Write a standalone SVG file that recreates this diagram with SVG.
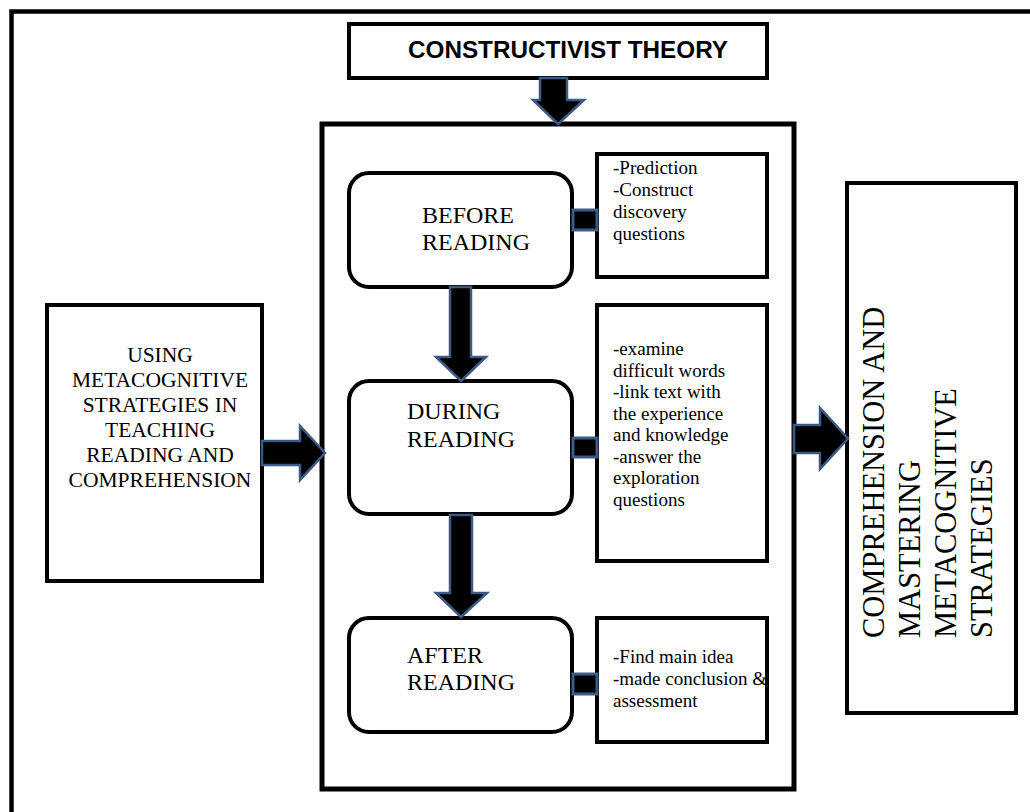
<svg xmlns="http://www.w3.org/2000/svg" width="1030" height="812" viewBox="0 0 1030 812">
<style>
.box{fill:#fff;stroke:#000;stroke-width:4}
.arr{fill:#000;stroke:#3C5A85;stroke-width:2.5;stroke-linejoin:miter}
.sq{fill:#000;stroke:#3C5A85;stroke-width:3}
</style>
<rect x="0" y="0" width="1030" height="812" fill="#fff"/>
<rect id="frame" x="11.5" y="11.5" width="1040" height="830" fill="none" stroke="#000" stroke-width="4.5"/>

<g id="title">
<rect class="box" x="349" y="24" width="418" height="54"/>
<text x="408" y="58" font-family="Liberation Sans, Arial, sans-serif" font-weight="bold" font-size="23.5" textLength="320" lengthAdjust="spacingAndGlyphs">CONSTRUCTIVIST THEORY</text>
</g>

<g id="main">
<rect x="322" y="124" width="472" height="665" fill="none" stroke="#000" stroke-width="5"/>
</g>

<g id="left">
<rect class="box" x="47" y="305" width="215" height="276"/>
<g font-family="Liberation Serif, Times New Roman, serif" font-size="21.5" text-anchor="middle" fill="#000">
<text x="160" y="362">USING</text>
<text x="160" y="387">METACOGNITIVE</text>
<text x="160" y="412">STRATEGIES IN</text>
<text x="160" y="437">TEACHING</text>
<text x="160" y="462">READING AND</text>
<text x="160" y="487">COMPREHENSION</text>
</g>
</g>

<g id="right">
<rect class="box" x="847" y="183" width="169" height="530"/>
<g font-family="Liberation Serif, Times New Roman, serif" font-size="30.5" fill="#000">
<text x="884" y="638" transform="rotate(-90 884 638)">COMPREHENSION AND</text>
<text x="920" y="638" transform="rotate(-90 920 638)">MASTERING</text>
<text x="956" y="638" transform="rotate(-90 956 638)">METACOGNITIVE</text>
<text x="992" y="638" transform="rotate(-90 992 638)">STRATEGIES</text>
</g>
</g>

<g id="before">
<rect class="box" x="349" y="173" width="223" height="114" rx="20"/>
<g font-family="Liberation Serif, Times New Roman, serif" font-size="24" fill="#000">
<text x="422" y="223">BEFORE</text>
<text x="422" y="250">READING</text>
</g>
</g>
<g id="before-notes">
<rect class="box" x="597" y="154" width="170" height="123"/>
<g font-family="Liberation Serif, Times New Roman, serif" font-size="19" fill="#000">
<text x="613" y="174">-Prediction</text>
<text x="613" y="196">-Construct</text>
<text x="613" y="218">discovery</text>
<text x="613" y="240">questions</text>
</g>
</g>

<g id="during">
<rect class="box" x="349" y="381" width="223" height="133" rx="20"/>
<g font-family="Liberation Serif, Times New Roman, serif" font-size="24" fill="#000">
<text x="407" y="419">DURING</text>
<text x="407" y="447">READING</text>
</g>
</g>
<g id="during-notes">
<rect class="box" x="597" y="305" width="170" height="256"/>
<g font-family="Liberation Serif, Times New Roman, serif" font-size="19" fill="#000">
<text x="613" y="355">-examine</text>
<text x="613" y="376.5">difficult words</text>
<text x="613" y="398">-link text with</text>
<text x="613" y="419.5">the experience</text>
<text x="613" y="441">and knowledge</text>
<text x="613" y="462.5">-answer the</text>
<text x="613" y="484">exploration</text>
<text x="613" y="505.5">questions</text>
</g>
</g>

<g id="after">
<rect class="box" x="349" y="618" width="223" height="114" rx="20"/>
<g font-family="Liberation Serif, Times New Roman, serif" font-size="24" fill="#000">
<text x="407" y="663">AFTER</text>
<text x="407" y="690">READING</text>
</g>
</g>
<g id="after-notes">
<rect class="box" x="597" y="618" width="170" height="124"/>
<g font-family="Liberation Serif, Times New Roman, serif" font-size="19" fill="#000">
<text x="613" y="663">-Find main idea</text>
<text x="613" y="685">-made conclusion &amp;</text>
<text x="613" y="707">assessment</text>
</g>
</g>

<g id="connectors">
<path class="arr" d="M540,78 L567,78 L567,100 L584,100 L558,124 L533,100 L540,100 Z"/>
<path class="arr" d="M450,287 L471,287 L471,357 L486,357 L461,381 L436,357 L450,357 Z"/>
<path class="arr" d="M450,515 L472,515 L472,593 L487,593 L461,617 L436,593 L450,593 Z"/>
<path class="arr" d="M262,441 L300,441 L300,426 L325,453 L300,480 L300,465 L262,465 Z"/>
<path class="arr" d="M794,425 L820,425 L820,408 L848,438.5 L820,469 L820,453 L794,453 Z"/>
<rect class="sq" x="573" y="210" width="24" height="20"/>
<rect class="sq" x="573" y="438" width="24" height="19"/>
<rect class="sq" x="573" y="674" width="24" height="20"/>
</g>
</svg>
